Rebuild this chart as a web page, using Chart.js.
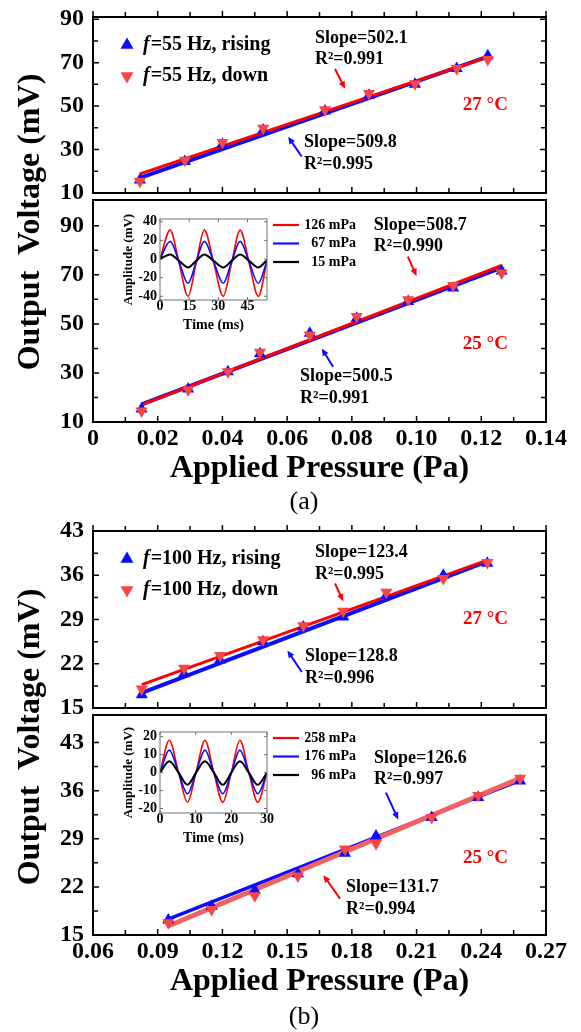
<!DOCTYPE html>
<html>
<head>
<meta charset="utf-8">
<title>Output voltage vs applied pressure</title>
<script src="https://cdn.jsdelivr.net/npm/chart.js@4.4.1/dist/chart.umd.min.js"></script>
<style>
  body { margin: 0; background: #fff; }
  #fig { position: relative; width: 581px; height: 1032px; overflow: hidden; }
  #fig canvas { position: absolute; }
</style>
</head>
<body>
<div id="fig">
  <canvas id="aBot" width="581" height="515" style="left:0;top:0"></canvas>
  <canvas id="aTop" width="581" height="200" style="left:0;top:0"></canvas>
  <canvas id="aInset" width="265" height="132" style="left:100px;top:205px"></canvas>
  <canvas id="bBot" width="581" height="517" style="left:0;top:515px"></canvas>
  <canvas id="bTop" width="581" height="200" style="left:0;top:515px"></canvas>
  <canvas id="bInset" width="265" height="132" style="left:100px;top:718px"></canvas>
</div>
<script>
const SERIF = '"Times New Roman", "Liberation Serif", serif';
const BLUE = '#0c0cff', RED = '#ff0000', RED_MK = '#f84444';

// ---------- (a) f = 55 Hz ----------
const aLabels = ['f=55 Hz, rising', 'f=55 Hz, down'];
const aXTicks = [0, 0.02, 0.04, 0.06, 0.08, 0.10, 0.12, 0.14];
const aYTicks = [10, 30, 50, 70, 90];

// 27 °C
const aTopPressure = [0.0145, 0.0284, 0.040, 0.0526, 0.0717, 0.0853, 0.0995, 0.1124, 0.122];
const aTopRising   = [16.0, 24.5, 32.4, 39.0, 47.7, 55.0, 60.0, 67.3, 73.2];
const aTopDown     = [15.4, 25.1, 33.2, 39.8, 48.3, 55.8, 60.3, 67.3, 71.4];
const aTopRisingFit = [17.0, 72.8];
const aTopDownFit   = [18.8, 72.6];

// 25 °C
const aBotPressure = [0.015, 0.0294, 0.0417, 0.0516, 0.067, 0.0815, 0.0974, 0.1113, 0.1263];
const aBotRising   = [15.3, 23.5, 30.5, 37.8, 46.2, 52.3, 59.1, 64.6, 71.6];
const aBotDown     = [14.5, 23.1, 30.5, 38.4, 45.5, 53.0, 59.8, 65.6, 70.7];
const aBotRisingFit = [17.2, 72.9];
const aBotDownFit   = [17.0, 73.8];

// inset (a): waveforms
const aInsetLabels = ['126 mPa', '67 mPa', '15 mPa'];
const aInsetXTicks = [0, 15, 30, 45];
const aInsetYTicks = [-40, -20, 0, 20, 40];
const aInsetTime  = [0, 5.2, 9.8, 14.4, 18.6, 22.8, 27.6, 32.5, 36.8, 41.2, 45.8, 50.5, 55];
const aInset126 = [0, 31, -4, -40, -4, 31, -4, -40, -4, 31, -4, -40, -2];
const aInset67  = [0, 19, -3, -26, -3, 19, -3, -26, -3, 19, -3, -26, -2];
const aInset15  = [0, 5, -2, -9, -2, 5, -2, -9, -2, 5, -2, -9, -1];

// ---------- (b) f = 100 Hz ----------
const bLabels = ['f=100 Hz, rising', 'f=100 Hz, down'];
const bXTicks = [0.06, 0.09, 0.12, 0.15, 0.18, 0.21, 0.24, 0.27];
const bYTicks = [15, 22, 29, 36, 43];

// 27 °C
const bTopPressure = [0.0826, 0.1022, 0.1189, 0.1388, 0.1575, 0.176, 0.196, 0.2224, 0.2428];
const bTopRising   = [17.1, 20.4, 22.6, 25.5, 27.8, 29.4, 32.8, 36.0, 37.9];
const bTopDown     = [18.0, 21.3, 23.3, 25.8, 28.0, 30.3, 33.3, 35.5, 38.0];
const bTopRisingFit = [17.4, 38.2];
const bTopDownFit   = [18.7, 38.4];

// 25 °C
const bBotPressure = [0.0949, 0.115, 0.135, 0.155, 0.1768, 0.1912, 0.217, 0.2386, 0.258];
const bBotRising   = [17.2, 19.2, 21.5, 23.9, 26.9, 29.4, 32.1, 35.0, 37.4];
const bBotDown     = [16.8, 18.7, 20.7, 23.6, 27.5, 28.3, 32.1, 35.3, 37.8];
const bBotRisingFit = [17.3, 37.5];
const bBotDownFit   = [16.3, 37.8];

// inset (b): waveforms
const bInsetLabels = ['258 mPa', '176 mPa', '96 mPa'];
const bInsetXTicks = [0, 10, 20, 30];
const bInsetYTicks = [-20, -10, 0, 10, 20];
const bInsetTime = [0, 2.6, 5.2, 7.7, 10.1, 12.6, 15.1, 17.6, 20, 22.4, 24.9, 27.4, 30];
const bInset258 = [0, 18, 0, -16.5, 0, 18, 0, -16.5, 0, 18, 0, -16.5, 0];
const bInset176 = [0, 12.5, 0, -11.8, 0, 12.5, 0, -11.8, 0, 12.5, 0, -11.8, 0];
const bInset96  = [0, 6.3, 0, -6.8, 0, 6.3, 0, -6.8, 0, 6.3, 0, -6.8, 0];

// ---------- helpers ----------
function pts(xs, ys) { return xs.map((x, i) => ({x: x, y: ys[i]})); }
function ends(xs) { return [xs[0], xs[xs.length - 1]]; }
function withMinor(t) {
  const out = [];
  t.forEach((v, i) => {
    out.push([v, true]);
    if (i < t.length - 1) out.push([(v + t[i + 1]) / 2, false]);
  });
  return out;
}
function tri(ctx, x, y, r, down, color) {
  const s = down ? -1 : 1;
  ctx.fillStyle = color;
  ctx.beginPath();
  ctx.moveTo(x, y - s * r);
  ctx.lineTo(x + r * 0.866, y + s * r / 2);
  ctx.lineTo(x - r * 0.866, y + s * r / 2);
  ctx.closePath();
  ctx.fill();
}
function arrow(ctx, x1, y1, x2, y2, color) {
  const ang = Math.atan2(y2 - y1, x2 - x1), h = 8;
  ctx.strokeStyle = color; ctx.fillStyle = color; ctx.lineWidth = 2;
  ctx.beginPath();
  ctx.moveTo(x1, y1);
  ctx.lineTo(x2 - h * 0.7 * Math.cos(ang), y2 - h * 0.7 * Math.sin(ang));
  ctx.stroke();
  ctx.beginPath();
  ctx.moveTo(x2, y2);
  ctx.lineTo(x2 - h * Math.cos(ang - 0.42), y2 - h * Math.sin(ang - 0.42));
  ctx.lineTo(x2 - h * Math.cos(ang + 0.42), y2 - h * Math.sin(ang + 0.42));
  ctx.closePath();
  ctx.fill();
}

// frame, inward ticks, notes, legend, titles
function panelDecor(p) {
  return {
    id: 'panelDecor',
    afterDraw(chart) {
      const ctx = chart.ctx, a = chart.chartArea;
      const xs = chart.scales.x, ys = chart.scales.y;
      ctx.save();
      ctx.strokeStyle = '#000';
      ctx.lineWidth = 2;
      ctx.strokeRect(a.left, a.top, a.right - a.left, a.bottom - a.top);
      ctx.lineWidth = 1.5;
      ctx.beginPath();
      withMinor(p.xTicks).forEach(([v, major]) => {
        const px = xs.getPixelForValue(v), len = major ? 6 : 5;
        ctx.moveTo(px, a.bottom); ctx.lineTo(px, a.bottom - len);
        if (p.topTicks) { ctx.moveTo(px, a.top); ctx.lineTo(px, a.top - len); }
      });
      withMinor(p.yTicks).forEach(([v, major]) => {
        const py = ys.getPixelForValue(v), len = major ? 6 : 5;
        ctx.moveTo(a.left, py); ctx.lineTo(a.left + len, py);
        ctx.moveTo(a.right, py); ctx.lineTo(a.right - len, py);
      });
      ctx.stroke();

      // slope / temperature notes
      ctx.textAlign = 'left';
      ctx.textBaseline = 'middle';
      p.notes.forEach(n => {
        ctx.fillStyle = n.color || '#000';
        ctx.font = 'bold ' + (n.size || 18) + 'px ' + SERIF;
        const x0 = xs.getPixelForValue(n.x), y0 = ys.getPixelForValue(n.y);
        n.lines.forEach((t, i) => ctx.fillText(t, x0, y0 + i * 21.5));
      });
      p.arrows.forEach(r => arrow(ctx,
        xs.getPixelForValue(r.from[0]), ys.getPixelForValue(r.from[1]),
        xs.getPixelForValue(r.to[0]), ys.getPixelForValue(r.to[1]), r.color));

      // legend (top panels)
      if (p.legend) {
        const rows = [chart.data.datasets[1], chart.data.datasets[0]];
        rows.forEach((ds, i) => {
          const cx = a.left + 34, cy = a.top + 28 + i * 31;
          tri(ctx, cx, cy, 7.5, ds.rotation === 180, ds.pointBackgroundColor);
          ctx.fillStyle = '#000';
          ctx.font = 'italic bold 20px ' + SERIF;
          ctx.fillText(ds.label[0], cx + 16, cy);
          const w = ctx.measureText(ds.label[0]).width;
          ctx.font = 'bold 20px ' + SERIF;
          ctx.fillText(ds.label.slice(1), cx + 16 + w + 1, cy);
        });
      }

      // shared y title and caption (bottom panels)
      if (p.caption) {
        ctx.fillStyle = '#000';
        ctx.save();
        ctx.translate(39, p.titleY);
        ctx.rotate(-Math.PI / 2);
        ctx.font = 'bold 32px ' + SERIF;
        ctx.textAlign = 'center';
        ctx.textBaseline = 'alphabetic';
        ctx.fillText('Output  Voltage (mV)', 0, 0);
        ctx.restore();
        ctx.font = '26px ' + SERIF;
        ctx.textAlign = 'center';
        ctx.fillText(p.caption, 304, p.captionY);
      }
      ctx.restore();
    }
  };
}

function makePanel(id, p) {
  const tickFont = {family: SERIF, size: 24, weight: 'bold'};
  const shown = !!p.xTitle;
  return new Chart(document.getElementById(id), {
    type: 'scatter',
    data: {
      datasets: [
        {label: p.labels[1], data: pts(p.x, p.down), pointStyle: 'triangle', rotation: 180,
         pointRadius: 7, pointBackgroundColor: RED_MK, pointBorderWidth: 0, order: 0},
        {label: p.labels[0], data: pts(p.x, p.rise), pointStyle: 'triangle',
         pointRadius: 7, pointBackgroundColor: BLUE, pointBorderWidth: 0, order: 1},
        {label: 'down fit', data: pts(ends(p.x), p.downFit), showLine: true, pointRadius: 0,
         borderColor: p.downColor || RED, borderWidth: p.downWidth || 3, order: 2},
        {label: 'rising fit', data: pts(ends(p.x), p.riseFit), showLine: true, pointRadius: 0,
         borderColor: BLUE, borderWidth: p.riseWidth || 4, order: 3}
      ]
    },
    options: {
      responsive: false,
      animation: false,
      events: [],
      layout: {padding: p.pad},
      plugins: {legend: {display: false}, tooltip: {enabled: false}},
      scales: {
        x: {
          type: 'linear', min: p.xMin, max: p.xMax, display: shown,
          afterBuildTicks: ax => { ax.ticks = p.xTicks.map(v => ({value: v})); },
          afterFit: ax => { ax.height = shown ? 70 : 0; ax.paddingLeft = 0; ax.paddingRight = 0; },
          grid: {display: false, drawTicks: false},
          border: {display: false},
          ticks: {color: '#000', font: tickFont, padding: 2, autoSkip: false, maxRotation: 0,
                  callback: v => v === 0 ? '0' : v.toFixed(2)},
          title: {display: shown, text: p.xTitle || '', color: '#000',
                  font: {family: SERIF, size: 32, weight: 'bold'}, padding: {top: 0, bottom: 4}}
        },
        y: {
          min: p.yMin, max: p.yMax,
          afterBuildTicks: ax => { ax.ticks = p.yTicks.map(v => ({value: v})); },
          afterFit: ax => { ax.width = 93; ax.paddingTop = 0; ax.paddingBottom = 0; },
          grid: {display: false, drawTicks: false},
          border: {display: false},
          ticks: {color: '#000', font: tickFont, padding: 9, autoSkip: false}
        }
      }
    },
    plugins: [panelDecor(p)]
  });
}

function insetDecor(s) {
  return {
    id: 'insetDecor',
    afterDraw(chart) {
      const ctx = chart.ctx, a = chart.chartArea;
      const xs = chart.scales.x, ys = chart.scales.y;
      ctx.save();
      ctx.strokeStyle = '#707070';
      ctx.lineWidth = 1;
      ctx.strokeRect(a.left, a.top, a.right - a.left, a.bottom - a.top);
      ctx.beginPath();
      s.xTicks.forEach(v => {
        const px = xs.getPixelForValue(v);
        ctx.moveTo(px, a.bottom); ctx.lineTo(px, a.bottom - 3);
        ctx.moveTo(px, a.top); ctx.lineTo(px, a.top + 3);
      });
      s.yTicks.forEach(v => {
        const py = ys.getPixelForValue(v);
        ctx.moveTo(a.left, py); ctx.lineTo(a.left + 3, py);
        ctx.moveTo(a.right, py); ctx.lineTo(a.right - 3, py);
      });
      ctx.stroke();
      // legend at the right of the inset
      ctx.font = 'bold 14px ' + SERIF;
      ctx.textAlign = 'right';
      ctx.textBaseline = 'middle';
      chart.data.datasets.forEach((ds, i) => {
        const y = a.top + 6 + i * 18.5;
        ctx.strokeStyle = ds.borderColor;
        ctx.lineWidth = 2.2;
        ctx.beginPath(); ctx.moveTo(a.right + 6, y); ctx.lineTo(a.right + 32, y); ctx.stroke();
        ctx.fillStyle = '#000';
        ctx.fillText(ds.label, a.right + 89, y);
      });
      ctx.restore();
    }
  };
}

function makeInset(id, s) {
  const f = size => ({family: SERIF, size: size, weight: 'bold', lineHeight: 1});
  const colors = [RED, BLUE, '#000'];
  return new Chart(document.getElementById(id), {
    type: 'scatter',
    data: {
      datasets: s.series.map((vals, i) => ({
        label: s.labels[i], data: pts(s.time, vals), showLine: true, pointRadius: 0,
        borderColor: colors[i], borderWidth: i === 2 ? 2 : 1.6,
        cubicInterpolationMode: 'monotone', order: 2 - i
      }))
    },
    options: {
      responsive: false,
      animation: false,
      events: [],
      layout: {padding: {left: 0, top: 14, right: 98, bottom: 5}},
      plugins: {legend: {display: false}, tooltip: {enabled: false}},
      scales: {
        x: {
          type: 'linear', min: 0, max: s.xMax,
          afterBuildTicks: ax => { ax.ticks = s.xTicks.map(v => ({value: v})); },
          afterFit: ax => { ax.height = 32; ax.paddingLeft = 0; ax.paddingRight = 0; },
          grid: {display: false, drawTicks: false},
          border: {display: false},
          ticks: {color: '#000', font: f(14), padding: -1, autoSkip: false, maxRotation: 0},
          title: {display: true, text: 'Time (ms)', color: '#000', font: f(14), padding: {top: 0, bottom: 0}}
        },
        y: {
          min: s.yMin, max: s.yMax,
          afterBuildTicks: ax => { ax.ticks = s.yTicks.map(v => ({value: v})); },
          afterFit: ax => { ax.width = 60; ax.paddingTop = 0; ax.paddingBottom = 0; },
          grid: {display: false, drawTicks: false},
          border: {display: false},
          ticks: {color: '#000', font: f(14), padding: 3, autoSkip: false},
          title: {display: true, text: 'Amplitude (mV)', color: '#000', font: f(13), padding: {top: 22, bottom: 0}}
        }
      }
    },
    plugins: [insetDecor(s)]
  });
}

// ---------- figure (a) ----------
makePanel('aBot', {
  labels: aLabels, x: aBotPressure, rise: aBotRising, down: aBotDown,
  riseFit: aBotRisingFit, downFit: aBotDownFit,
  xMin: 0, xMax: 0.14, xTicks: aXTicks, yMin: 10, yMax: 100.5, yTicks: aYTicks,
  xTitle: 'Applied Pressure (Pa)', caption: '(a)', titleY: 222, captionY: 502,
  pad: {left: 0, top: 200, right: 35, bottom: 23},
  notes: [
    {x: 0.0868, y: 90.3, lines: ['Slope=508.7', 'R²=0.990']},
    {x: 0.0640, y: 28.5, lines: ['Slope=500.5', 'R²=0.991']},
    {x: 0.1143, y: 41.7, lines: ['25 °C'], color: RED, size: 19}
  ],
  arrows: [
    {from: [0.0973, 77.4], to: [0.1000, 69.5], color: RED},
    {from: [0.0742, 32.5], to: [0.0707, 40.0], color: BLUE}
  ]
});
makePanel('aTop', {
  labels: aLabels, x: aTopPressure, rise: aTopRising, down: aTopDown,
  riseFit: aTopRisingFit, downFit: aTopDownFit,
  xMin: 0, xMax: 0.14, xTicks: aXTicks, yMin: 10, yMax: 91, yTicks: aYTicks,
  legend: true, topTicks: true,
  pad: {left: 0, top: 17, right: 35, bottom: 5},
  notes: [
    {x: 0.0686, y: 81.4, lines: ['Slope=502.1', 'R²=0.991']},
    {x: 0.0652, y: 33.2, lines: ['Slope=509.8', 'R²=0.995']},
    {x: 0.1143, y: 50.5, lines: ['27 °C'], color: RED, size: 19}
  ],
  arrows: [
    {from: [0.0748, 67.1], to: [0.0779, 58.0], color: RED},
    {from: [0.0645, 26.8], to: [0.0603, 35.9], color: BLUE}
  ]
});
makeInset('aInset', {
  labels: aInsetLabels, time: aInsetTime, series: [aInset126, aInset67, aInset15],
  xMax: 55, xTicks: aInsetXTicks, yMin: -44, yMax: 43, yTicks: aInsetYTicks
});

// ---------- figure (b) ----------
makePanel('bBot', {
  labels: bLabels, x: bBotPressure, rise: bBotRising, down: bBotDown,
  riseFit: bBotRisingFit, downFit: bBotDownFit,
  downColor: '#f06262', downWidth: 5, riseWidth: 3.5,
  xMin: 0.06, xMax: 0.27, xTicks: bXTicks, yMin: 15, yMax: 47, yTicks: bYTicks,
  xTitle: 'Applied Pressure (Pa)', caption: '(b)', titleY: 222, captionY: 502,
  pad: {left: 0, top: 200, right: 35, bottom: 27},
  notes: [
    {x: 0.1903, y: 40.7, lines: ['Slope=126.6', 'R²=0.997']},
    {x: 0.1773, y: 21.9, lines: ['Slope=131.7', 'R²=0.994']},
    {x: 0.2315, y: 26.2, lines: ['25 °C'], color: RED, size: 19}
  ],
  arrows: [
    {from: [0.1958, 35.7], to: [0.2015, 31.8], color: BLUE},
    {from: [0.1745, 20.3], to: [0.1668, 23.7], color: RED}
  ]
});
makePanel('bTop', {
  labels: bLabels, x: bTopPressure, rise: bTopRising, down: bTopDown,
  riseFit: bTopRisingFit, downFit: bTopDownFit,
  xMin: 0.06, xMax: 0.27, xTicks: bXTicks, yMin: 15, yMax: 43, yTicks: bYTicks,
  legend: true, topTicks: true,
  pad: {left: 0, top: 16, right: 35, bottom: 7},
  notes: [
    {x: 0.1629, y: 39.6, lines: ['Slope=123.4', 'R²=0.995']},
    {x: 0.1583, y: 23.1, lines: ['Slope=128.8', 'R²=0.996']},
    {x: 0.2315, y: 29.0, lines: ['27 °C'], color: RED, size: 19}
  ],
  arrows: [
    {from: [0.1722, 34.7], to: [0.1760, 31.9], color: RED},
    {from: [0.1568, 20.7], to: [0.1501, 24.1], color: BLUE}
  ]
});
makeInset('bInset', {
  labels: bInsetLabels, time: bInsetTime, series: [bInset258, bInset176, bInset96],
  xMax: 30, xTicks: bInsetXTicks, yMin: -22.5, yMax: 22.6, yTicks: bInsetYTicks
});
</script>
</body>
</html>
